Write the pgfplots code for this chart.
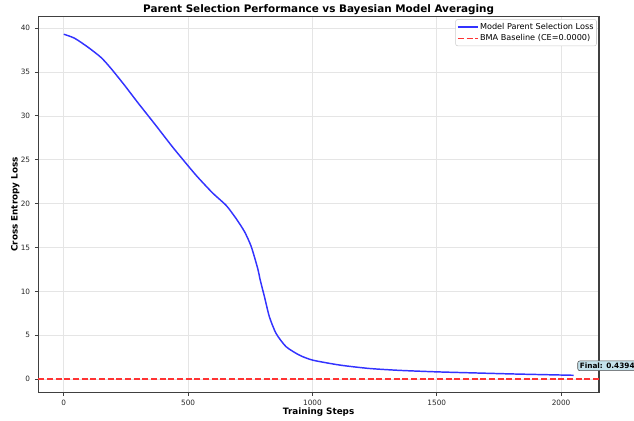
\documentclass[border=0pt]{standalone}
\usepackage{fontspec}
\setmainfont{DejaVu Sans}
\usepackage{pgfplots}
\pgfplotsset{compat=1.18}
\definecolor{lineblue}{RGB}{51,51,255}
\definecolor{linered}{RGB}{255,51,51}
\definecolor{boxblue}{RGB}{196,226,236}
\begin{document}
\begin{tikzpicture}
\begin{axis}[
  scale only axis, width=420.5pt, height=281.7pt,
  xmin=-102.5, xmax=2152.5, ymin=-1.5, ymax=41.3,
  xtick={0,500,1000,1500,2000}, ytick={0,5,10,15,20,25,30,35,40},
  grid=major, grid style={color=black!10, line width=0.5pt},
  axis line style={color=black!75, line width=0.9pt},
  tick style={color=black!75, line width=0.6pt},
  tick align=outside, major tick length=2.6pt, tick pos=left,
  ticklabel style={font=\fontsize{5.5}{6}\selectfont, color=black!85},
  /pgf/number format/assume math mode=true,
  /pgf/number format/1000 sep={},
  xlabel={Training Steps}, ylabel={Cross Entropy Loss},
  label style={font=\fontsize{6.6}{8}\selectfont\bfseries},
  xlabel style={at={(axis description cs:0.5,0)}, anchor=base, yshift=-16.3pt},
  ylabel style={at={(axis description cs:-0.025,0.5)}, anchor=south},
  title={Parent Selection Performance vs Bayesian Model Averaging},
  every axis title/.style={at={(axis description cs:0.5,1)}, anchor=base, yshift=2.8pt,
    font=\fontsize{7.8}{9}\selectfont\bfseries},
  legend style={at={(axis description cs:0.996,0.993)}, anchor=north east,
    font=\fontsize{6.1}{7}\selectfont, draw=black!20, rounded corners=1.5pt,
    inner xsep=1.2pt, inner ysep=1.5pt, row sep=0.4pt,
    nodes={inner sep=1pt}},
  legend cell align=left,
  legend image code/.code={\draw[#1] (0pt,0pt) -- (15pt,0pt);},
  clip=false,
]
\addplot[color=lineblue, line width=1.1pt, smooth, tension=0.4] coordinates {
(0,39.3) (43,38.85) (96,37.85) (150,36.65) (190,35.4) (244,33.5) (298,31.5)
(365,29.1) (432,26.65) (465,25.5) (533,23.2) (599,21.2) (653,19.8) (693,18.3)
(727,16.8) (754,15.1) (780,12.6) (790,11.3) (807,9.4) (827,7.1) (854,5.2)
(894,3.7) (948,2.73) (1002,2.16) (1111,1.6) (1227,1.22) (1350,1.0) (1500,0.83)
(1650,0.71) (1793,0.6) (1950,0.5) (2050,0.44)
};
\addlegendentry{Model Parent Selection Loss}
\addplot[color=linered, line width=1.1pt, dash pattern=on 4.5pt off 2pt] coordinates {
(-102.5,0) (2152.5,0)
};
\addlegendentry{BMA Baseline (CE=0.0000)}
\node[anchor=west, fill=boxblue, draw=black!70, rounded corners=1.5pt,
  font=\fontsize{5.5}{6}\selectfont\bfseries, inner xsep=1.5pt, inner ysep=1.5pt]
  at (axis cs:2066,1.52) {Final: 0.4394};
\end{axis}
\pgfresetboundingbox
\useasboundingbox ([xshift=-28.7pt,yshift=-21.5pt]current axis.south west) rectangle ([xshift=26.25pt,yshift=12.5pt]current axis.north east);
\end{tikzpicture}
\end{document}
